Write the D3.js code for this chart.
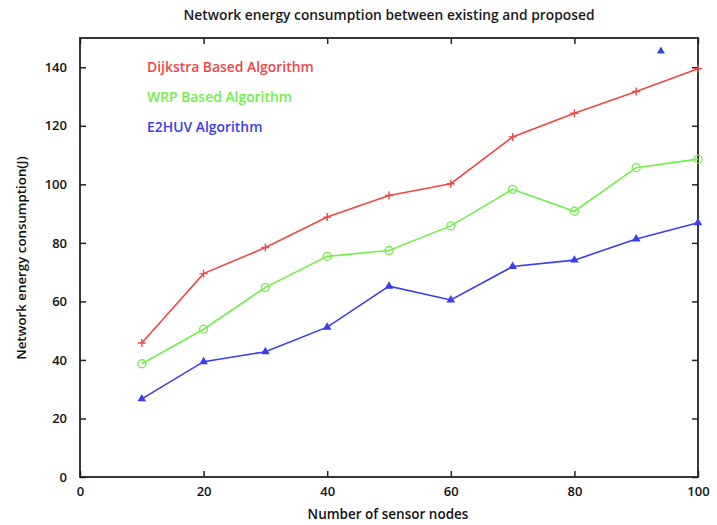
<!DOCTYPE html>
<html>
<head>
<meta charset="utf-8">
<script src="https://cdn.jsdelivr.net/npm/d3@7"></script>
<style>
  body { margin: 0; background: #fff; }
  svg { display: block; }
  text { font-family: "Open Sans", "DejaVu Sans", sans-serif; }
</style>
</head>
<body>
<svg id="chart" width="717" height="525"></svg>
<script>
// Number of sensor nodes
const nodes = [10, 20, 30, 40, 50, 60, 70, 80, 90, 100];
// Network energy consumption (J) per algorithm
const dijkstra = [45.8, 69.5, 78.4, 88.8, 96.2, 100.2, 116.2, 124.3, 131.7, 139.5];
const wrp      = [38.7, 50.5, 64.8, 75.4, 77.4, 85.8, 98.3, 90.8, 105.7, 108.6];
const e2huv    = [26.7, 39.4, 42.8, 51.2, 65.2, 60.5, 71.9, 74.1, 81.3, 86.9];
const seriesNames = ["Dijkstra Based Algorithm", "WRP Based Algorithm", "E2HUV Algorithm"];
const xTicks = [0, 20, 40, 60, 80, 100];
const yTicks = [0, 20, 40, 60, 80, 100, 120, 140];
// lone key marker near the top right of the frame
const strayMarker = [[94, 145.5]];

const colors = ["#f04646", "#6ef04a", "#3c3cf0"];

const svg = d3.select("#chart");
const plotLeft = 80, plotRight = 698, plotTop = 38, plotBottom = 477;

const x = d3.scaleLinear().domain([0, 100]).range([plotLeft, plotRight]);
const y = d3.scaleLinear().domain([0, 150]).range([plotBottom, plotTop]);

// Title
svg.append("text")
  .attr("x", 389).attr("y", 20)
  .attr("text-anchor", "middle")
  .attr("font-size", 13.8).attr("font-weight", 600).attr("fill", "#1a1a1a")
  .text("Network energy consumption between existing and proposed");

// Axes with inward ticks, mirrored on top and right
const tickLen = 6;
const styleLabels = g => g.selectAll("text")
  .attr("font-size", 13).attr("font-weight", 600).attr("fill", "#111")
  .attr("font-family", "'Open Sans', sans-serif");

svg.append("g").attr("transform", `translate(0,${plotBottom})`)
  .call(d3.axisBottom(x).tickValues(xTicks).tickSizeInner(-tickLen).tickSizeOuter(0).tickPadding(10))
  .call(g => g.select(".domain").remove())
  .call(styleLabels);
svg.append("g").attr("transform", `translate(0,${plotTop})`)
  .call(d3.axisTop(x).tickValues(xTicks).tickSizeInner(-tickLen).tickSizeOuter(0).tickFormat(""))
  .call(g => g.select(".domain").remove());
svg.append("g").attr("transform", `translate(${plotLeft},0)`)
  .call(d3.axisLeft(y).tickValues(yTicks).tickSizeInner(-tickLen).tickSizeOuter(0).tickPadding(13))
  .call(g => g.select(".domain").remove())
  .call(styleLabels);
svg.append("g").attr("transform", `translate(${plotRight},0)`)
  .call(d3.axisRight(y).tickValues(yTicks).tickSizeInner(-tickLen).tickSizeOuter(0).tickFormat(""))
  .call(g => g.select(".domain").remove());
svg.selectAll(".tick line").attr("stroke", "#222").attr("stroke-width", 1.5);

// Frame
svg.append("rect")
  .attr("x", plotLeft).attr("y", plotTop)
  .attr("width", plotRight - plotLeft).attr("height", plotBottom - plotTop)
  .attr("fill", "none").attr("stroke", "#222").attr("stroke-width", 1.8);

// Axis titles
svg.append("text")
  .attr("x", 388).attr("y", 519)
  .attr("text-anchor", "middle")
  .attr("font-size", 13.5).attr("font-weight", 600).attr("fill", "#111")
  .text("Number of sensor nodes");
svg.append("text")
  .attr("transform", "translate(26,258) rotate(-90)")
  .attr("text-anchor", "middle")
  .attr("font-size", 13.3).attr("font-weight", 600).attr("fill", "#111")
  .text("Network energy consumption(J)");

const line = d3.line().x(d => x(d[0])).y(d => y(d[1]));
const allSeries = [dijkstra, wrp, e2huv];

allSeries.forEach((vals, i) => {
  const pts = nodes.map((n, j) => [n, vals[j]]);
  svg.append("path").datum(pts)
    .attr("d", line).attr("fill", "none")
    .attr("stroke", colors[i]).attr("stroke-width", 1.6);

  const g = svg.append("g");
  if (i === 0) {
    // plain plus marks
    g.selectAll("path").data(pts).join("path")
      .attr("d", "M-4,0H4M0,-4V4")
      .attr("transform", d => `translate(${x(d[0])},${y(d[1])})`)
      .attr("fill", "none").attr("stroke", colors[i]).attr("stroke-width", 1.4);
  } else if (i === 1) {
    g.selectAll("circle").data(pts).join("circle")
      .attr("cx", d => x(d[0])).attr("cy", d => y(d[1])).attr("r", 4)
      .attr("fill", "none").attr("stroke", colors[i]).attr("stroke-width", 1.3);
  } else {
    g.selectAll("path").data(pts).join("path")
      .attr("d", d3.symbol(d3.symbolTriangle, 32))
      .attr("transform", d => `translate(${x(d[0])},${y(d[1])})`)
      .attr("fill", colors[i]);
  }
});

svg.selectAll(".stray").data(strayMarker).join("path")
  .attr("class", "stray")
  .attr("d", d3.symbol(d3.symbolTriangle, 28))
  .attr("transform", d => `translate(${x(d[0])},${y(d[1])})`)
  .attr("fill", "#2a4fd0");

// Legend text in series colours
seriesNames.forEach((name, i) => {
  svg.append("text")
    .attr("x", 147).attr("y", 72 + i * 30)
    .attr("font-size", 13.9).attr("font-weight", 600)
    .attr("fill", colors[i])
    .text(name);
});
</script>
</body>
</html>
